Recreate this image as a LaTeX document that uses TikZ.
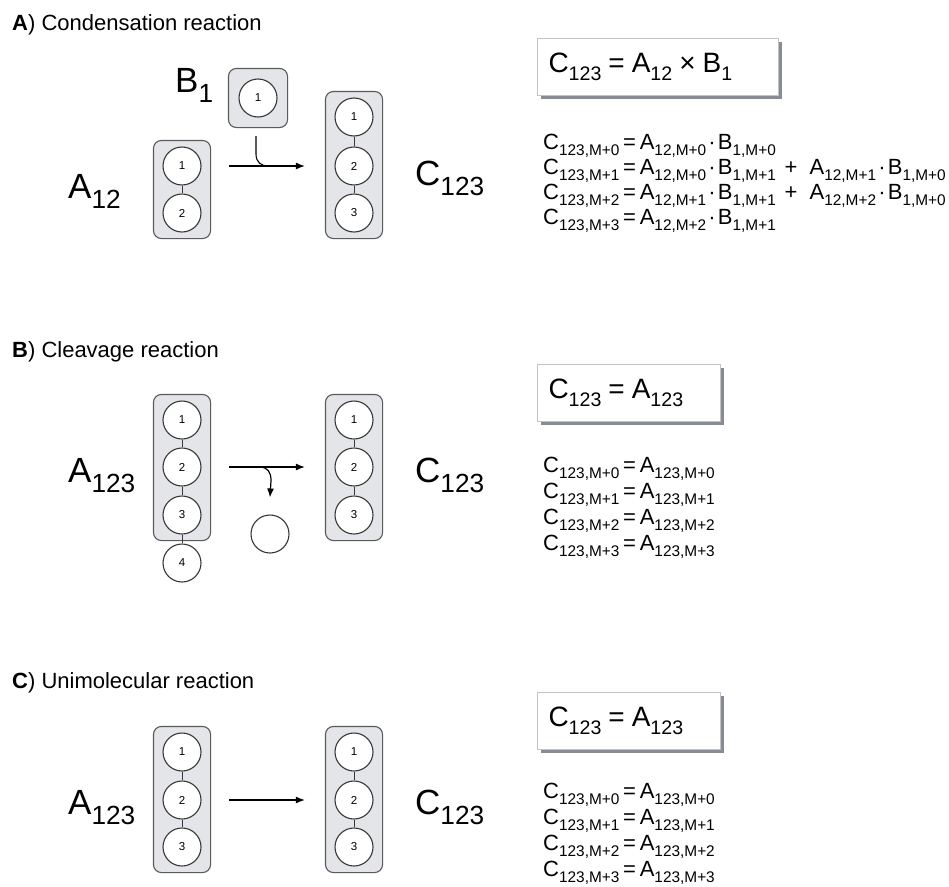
\documentclass[tikz,border=0pt]{standalone}
\usepackage{fontspec}
\setmainfont{Liberation Sans}
\usepackage{graphicx}
\usetikzlibrary{arrows.meta, calc, positioning, fit, backgrounds, shadows}
\definecolor{molfill}{RGB}{228,229,232}
\definecolor{moldraw}{RGB}{90,90,90}
\definecolor{resdraw}{RGB}{55,55,55}
\definecolor{boxedge}{RGB}{195,195,195}
\definecolor{boxshadow}{RGB}{135,140,148}

% lowered, smaller index in the running sans font
\newcommand{\lo}[2][0.7]{\raisebox{-0.3em}{\scalebox{#1}{#2}}}
% tight operators for the rate terms
\newcommand{\eq}{\hspace{0.17em}=\hspace{0.17em}}
\newcommand{\tm}{\hspace{0.1em}·\hspace{0.1em}}
\newcommand{\pl}{\hspace{0.4em}+\hspace{0.55em}}

\tikzset{
  res/.style={circle, draw=resdraw, fill=white, line width=1.1pt, minimum size=38pt, inner sep=0pt, font=\fontsize{11.5}{11.5}\selectfont},
  mol/.style={draw=moldraw, fill=molfill, line width=1.1pt, rounded corners=8pt, inner xsep=9pt, inner ysep=6pt},
  bond/.style={draw=resdraw, line width=1pt},
  react/.style={-{Latex[length=9pt,width=7pt]}, line width=1.2pt},
  title/.style={anchor=base west, inner sep=0pt, font=\fontsize{22}{22}\selectfont},
  species/.style={anchor=base west, inner sep=0pt, font=\fontsize{35}{35}\selectfont},
  rate/.style={draw=boxedge, fill=white, line width=1pt, anchor=north west,
    drop shadow={shadow xshift=3pt, shadow yshift=-3pt, fill=boxshadow, opacity=1},
    minimum height=57pt, inner xsep=11pt, align=left, font=\fontsize{28}{28}\selectfont},
  terms/.style={anchor=base west, inner sep=0pt, font=\fontsize{22}{22}\selectfont},
}

\begin{document}
\begin{tikzpicture}[x=1pt, y=-1pt]
    \useasboundingbox (0,0) rectangle (949,886);

    %% A) condensation
    \node[title] (tA) at (12,30) {\textbf{A}) Condensation reaction};

    \node[res] (a1) at (182,166) {1};
    \node[res] (a2) at (182,213) {2};
    \node[res] (b1) at (258,98) {1};
    \node[res] (c1) at (354,117) {1};
    \node[res] (c2) at (354,166) {2};
    \node[res] (c3) at (354,213) {3};
    \draw[bond] (a1) -- (a2);
    \draw[bond] (c1) -- (c2) -- (c3);
    \begin{scope}[on background layer]
        \node[mol, fit=(a1)(a2)] (A12) {};
        \node[mol, fit=(b1), inner ysep=10pt, inner xsep=10pt] (B1) {};
        \node[mol, fit=(c1)(c3)] (C123) {};
    \end{scope}

    \node[species] (lA) at (68,198) {A\lo[0.75]{12}};
    \node[species] (lB) at (175,92) {B\lo[0.75]{1}};
    \node[species] (lC) at (415,185) {C\lo[0.75]{123}};

    \draw[react, shorten <=18pt, shorten >=20pt] (A12.east |- c2) -- (c2 -| C123.west);
    \coordinate (jA) at ($(B1.south |- c2)+(10,0)$);
    \draw[line width=1.1pt] ([xshift=-2pt,yshift=-8pt]B1.south) -- ++(0,18) .. controls +(0,8) and +(-7,0) .. (jA);

    \node[rate, minimum width=241pt, text width=219pt] (rA) at (537,38)
        {C\lo{123}\hspace{0.25em}=\hspace{0.25em}A\lo{12}\hspace{0.25em}×\hspace{0.25em}B\lo{1}};
    \node[terms] (eA0) at (543,149) {C\lo{123,M+0}\eq A\lo{12,M+0}\tm B\lo{1,M+0}};
    \node[terms] (eA1) at (543,174) {C\lo{123,M+1}\eq A\lo{12,M+0}\tm B\lo{1,M+1}\pl A\lo{12,M+1}\tm B\lo{1,M+0}};
    \node[terms] (eA2) at (543,199) {C\lo{123,M+2}\eq A\lo{12,M+1}\tm B\lo{1,M+1}\pl A\lo{12,M+2}\tm B\lo{1,M+0}};
    \node[terms] (eA3) at (543,224) {C\lo{123,M+3}\eq A\lo{12,M+2}\tm B\lo{1,M+1}};

    %% B) cleavage
    \node[title] (tB) at (12,357) {\textbf{B}) Cleavage reaction};

    \node[res] (p1) at (182,420) {1};
    \node[res] (p2) at (182,467) {2};
    \node[res] (p3) at (182,515) {3};
    \node[res] (p4) at (182,563) {4};
    \node[res] (q1) at (354,420) {1};
    \node[res] (q2) at (354,467) {2};
    \node[res] (q3) at (354,515) {3};
    \node[res] (lost) at (270,534) {};
    \draw[bond] (p1) -- (p2) -- (p3) -- (p4);
    \draw[bond] (q1) -- (q2) -- (q3);
    \begin{scope}[on background layer]
        \node[mol, fit=(p1)(p3)] (A123) {};
        \node[mol, fit=(q1)(q3)] (C123b) {};
    \end{scope}

    \node[species] (lAb) at (68,482) {A\lo[0.75]{123}};
    \node[species] (lCb) at (415,482) {C\lo[0.75]{123}};

    \draw[react, shorten <=18pt, shorten >=20pt] (A123.east |- q2) -- (q2 -| C123b.west);
    \coordinate (sB) at ($(A123.east |- q2)+(48,0)$);
    \draw[react] (sB) .. controls +(9,0) and +(0,-8) .. ($(lost.north)+(1,-34)$) -- ([yshift=17pt]lost.north);

    \node[rate, minimum width=183pt, text width=161pt] (rB) at (537,364)
        {C\lo{123}\hspace{0.25em}=\hspace{0.25em}A\lo{123}};
    \node[terms] (eB0) at (543,472) {C\lo{123,M+0}\eq A\lo{123,M+0}};
    \node[terms] (eB1) at (543,498) {C\lo{123,M+1}\eq A\lo{123,M+1}};
    \node[terms] (eB2) at (543,524) {C\lo{123,M+2}\eq A\lo{123,M+2}};
    \node[terms] (eB3) at (543,550) {C\lo{123,M+3}\eq A\lo{123,M+3}};

    %% C) unimolecular
    \node[title] (tC) at (12,688) {\textbf{C}) Unimolecular reaction};

    \node[res] (u1) at (182,752) {1};
    \node[res] (u2) at (182,800) {2};
    \node[res] (u3) at (182,847) {3};
    \node[res] (v1) at (354,752) {1};
    \node[res] (v2) at (354,800) {2};
    \node[res] (v3) at (354,847) {3};
    \draw[bond] (u1) -- (u2) -- (u3);
    \draw[bond] (v1) -- (v2) -- (v3);
    \begin{scope}[on background layer]
        \node[mol, fit=(u1)(u3)] (A123c) {};
        \node[mol, fit=(v1)(v3)] (C123c) {};
    \end{scope}

    \node[species] (lAc) at (68,814) {A\lo[0.75]{123}};
    \node[species] (lCc) at (415,814) {C\lo[0.75]{123}};

    \draw[react, shorten <=18pt, shorten >=20pt] (A123c.east |- v2) -- (v2 -| C123c.west);

    \node[rate, minimum width=183pt, text width=161pt] (rC) at (537,692)
        {C\lo{123}\hspace{0.25em}=\hspace{0.25em}A\lo{123}};
    \node[terms] (eC0) at (543,798) {C\lo{123,M+0}\eq A\lo{123,M+0}};
    \node[terms] (eC1) at (543,824) {C\lo{123,M+1}\eq A\lo{123,M+1}};
    \node[terms] (eC2) at (543,850) {C\lo{123,M+2}\eq A\lo{123,M+2}};
    \node[terms] (eC3) at (543,876) {C\lo{123,M+3}\eq A\lo{123,M+3}};
\end{tikzpicture}
\end{document}
